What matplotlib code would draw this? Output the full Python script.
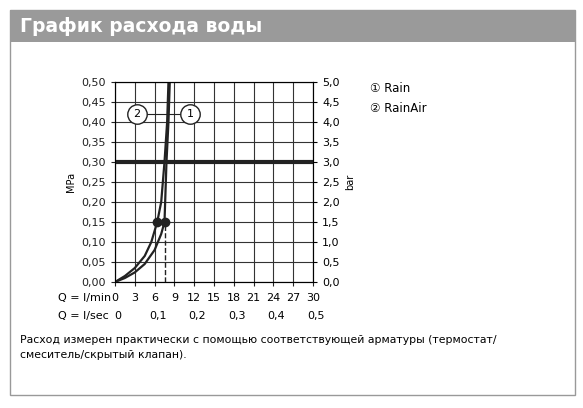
import matplotlib
matplotlib.use("Agg")
import matplotlib.pyplot as plt
from matplotlib.patches import Rectangle

q1 = [0, 1.5, 3, 4.5, 6, 7, 7.5, 7.6, 7.8, 8.1, 8.3]
p1 = [0, 0.01, 0.024, 0.045, 0.08, 0.12, 0.15, 0.2, 0.3, 0.4, 0.5]
q2 = [0, 1.5, 3, 4.5, 5.5, 6.4, 7.0, 7.5, 7.9, 8.1]
p2 = [0, 0.015, 0.035, 0.065, 0.1, 0.15, 0.2, 0.3, 0.4, 0.5]
xt_lmin = [0, 3, 6, 9, 12, 15, 18, 21, 24, 27, 30]
xt_lsec = ["0", "0,1", "0,2", "0,3", "0,4", "0,5"]
yt = [0, 0.05, 0.1, 0.15, 0.2, 0.25, 0.3, 0.35, 0.4, 0.45, 0.5]

plt.rcParams['font.family'] = ['DejaVu Sans']
fig = plt.figure(figsize=(5.83, 4.08), dpi=100)
W, H = 583, 408
def fx(x): return x / W
def fy(y): return 1 - y / H
fig.patches.append(Rectangle((fx(10), fy(395)), fx(565), (385) / H, transform=fig.transFigure,
                             fill=False, edgecolor='#999999', lw=1))
fig.patches.append(Rectangle((fx(10), fy(42)), fx(565), 32 / H, transform=fig.transFigure,
                             facecolor='#9a9a9a', edgecolor='none'))
fig.text(fx(20), fy(27), "График расхода воды", color='white', fontsize=13.5, fontweight='bold', va='center')

ax = fig.add_axes([fx(115), fy(282), fx(313 - 115), (282 - 82) / H])
ax.set_xlim(0, 30); ax.set_ylim(0, 0.5)
ax.set_xticks(xt_lmin); ax.set_yticks(yt)
ax.grid(True, color='#333333', lw=0.8)
ax.set_xticklabels([])
ax.set_yticklabels([f"{v:.2f}".replace('.', ',') for v in yt], fontsize=8)
ax.tick_params(length=3, colors='#222222')
for s in ax.spines.values(): s.set_color('#333333')
ax.set_ylabel("MPa", fontsize=7)
ax2 = ax.twinx()
ax2.set_ylim(0, 5)
ax2.set_yticks([v * 10 for v in yt])
ax2.set_yticklabels([f"{v*10:.1f}".replace('.', ',') for v in yt], fontsize=8)
ax2.set_ylabel("bar", fontsize=7, rotation=90)
ax2.tick_params(length=3)
ax.axhline(0.3, color='#222222', lw=3)
ax.plot(q1, p1, color='#222222', lw=1.6)
ax.plot(q2, p2, color='#222222', lw=1.6)
ax.plot([7.5, 7.5], [0, 0.15], color='#222222', lw=1, ls='--')
ax.plot([6.4, 7.5], [0.15, 0.15], 'o', color='#222222', ms=6)
ax.plot([3.3, 11.4], [0.42, 0.42], color='#222222', lw=0.8)
for x, t in [(3.3, "2"), (11.4, "1")]:
    ax.plot([x], [0.42], 'o', ms=14, mfc='white', mec='#222222', mew=1)
    ax.text(x, 0.42, t, ha='center', va='center', fontsize=8)

for v in xt_lmin:
    fig.text(fx(115 + v * 198 / 30), fy(298), str(v), ha='center', va='center', fontsize=8)
for i, t in enumerate(xt_lsec):
    fig.text(fx(118 + i * 39.6), fy(316), t, ha='center', va='center', fontsize=8)
fig.text(fx(58), fy(298), "Q = l/min", va='center', fontsize=8)
fig.text(fx(58), fy(316), "Q = l/sec", va='center', fontsize=8)

fig.text(fx(370), fy(88), "\u2460 Rain", va='center', fontsize=8.5)
fig.text(fx(370), fy(108), "\u2461 RainAir", va='center', fontsize=8.5)
fig.text(fx(20), fy(340), "Расход измерен практически с помощью соответствующей арматуры (термостат/",
         va='center', fontsize=7.8)
fig.text(fx(20), fy(355), "смеситель/скрытый клапан).", va='center', fontsize=7.8)
fig.savefig("out.png", dpi=100)
